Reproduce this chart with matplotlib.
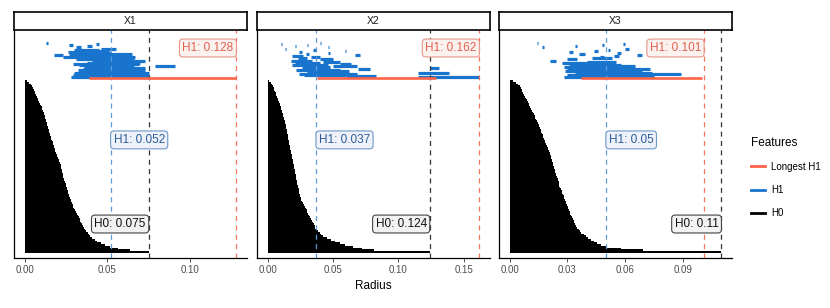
import numpy as np
import matplotlib.pyplot as plt
from matplotlib.lines import Line2D

plt.rcParams['font.family'] = ['Liberation Sans', 'DejaVu Sans']

panels = ['X1', 'X2', 'X3']

# H0 bars (birth = 0), death radius, longest first
h0_x1 = [0.075, 0.0637, 0.0564, 0.0517, 0.0485, 0.0461, 0.0440, 0.0424, 0.0410, 0.0396,
         0.0388, 0.0381, 0.0374, 0.0367, 0.0360, 0.0353, 0.0348, 0.0343, 0.0337, 0.0332,
         0.0327, 0.0321, 0.0316, 0.0311, 0.0306, 0.0300, 0.0295, 0.0290, 0.0285, 0.0281,
         0.0278, 0.0274, 0.0271, 0.0267, 0.0264, 0.0261, 0.0257, 0.0254, 0.0251, 0.0248,
         0.0245, 0.0241, 0.0238, 0.0235, 0.0232, 0.0230, 0.0227, 0.0224, 0.0222, 0.0219,
         0.0217, 0.0214, 0.0210, 0.0206, 0.0202, 0.0198, 0.0194, 0.0190, 0.0186, 0.0182,
         0.0179, 0.0176, 0.0172, 0.0169, 0.0165, 0.0162, 0.0159, 0.0155, 0.0152, 0.0149,
         0.0146, 0.0143, 0.0140, 0.0136, 0.0133, 0.0131, 0.0128, 0.0125, 0.0122, 0.0119,
         0.0116, 0.0112, 0.0107, 0.0103, 0.0099, 0.0095, 0.0090, 0.0084, 0.0079, 0.0074,
         0.0070, 0.0065, 0.0061, 0.0057, 0.0050, 0.0044, 0.0038, 0.0028, 0.0016, 0.0004]
h0_x2 = [0.124, 0.081, 0.072, 0.065, 0.0595, 0.0554, 0.0517, 0.0483, 0.0454, 0.0427,
         0.0412, 0.0399, 0.0385, 0.0372, 0.0366, 0.0359, 0.0352, 0.0345, 0.0338, 0.0331,
         0.0325, 0.0318, 0.0312, 0.0305, 0.0298, 0.0292, 0.0285, 0.0278, 0.0272, 0.0265,
         0.0258, 0.0255, 0.0251, 0.0248, 0.0244, 0.0241, 0.0238, 0.0234, 0.0231, 0.0228,
         0.0226, 0.0223, 0.0221, 0.0218, 0.0215, 0.0213, 0.0210, 0.0207, 0.0205, 0.0202,
         0.0199, 0.0196, 0.0194, 0.0191, 0.0188, 0.0186, 0.0183, 0.0180, 0.0177, 0.0175,
         0.0172, 0.0170, 0.0167, 0.0164, 0.0162, 0.0159, 0.0156, 0.0154, 0.0151, 0.0148,
         0.0145, 0.0143, 0.0140, 0.0137, 0.0135, 0.0132, 0.0129, 0.0125, 0.0121, 0.0117,
         0.0113, 0.0109, 0.0105, 0.0101, 0.0097, 0.0093, 0.0088, 0.0083, 0.0078, 0.0073,
         0.0068, 0.0063, 0.0058, 0.0052, 0.0046, 0.0039, 0.0032, 0.0024, 0.0012, 0.0003]
h0_x3 = [0.110, 0.0695, 0.0579, 0.0503, 0.0475, 0.0455, 0.0437, 0.0422, 0.0408, 0.0396,
         0.0384, 0.0372, 0.0365, 0.0358, 0.0352, 0.0345, 0.0341, 0.0336, 0.0332, 0.0327,
         0.0322, 0.0318, 0.0315, 0.0312, 0.0309, 0.0305, 0.0302, 0.0299, 0.0295, 0.0292,
         0.0288, 0.0284, 0.0281, 0.0277, 0.0273, 0.0270, 0.0266, 0.0262, 0.0259, 0.0256,
         0.0254, 0.0251, 0.0249, 0.0246, 0.0243, 0.0241, 0.0238, 0.0235, 0.0233, 0.0230,
         0.0227, 0.0225, 0.0222, 0.0219, 0.0216, 0.0214, 0.0211, 0.0208, 0.0204, 0.0201,
         0.0197, 0.0193, 0.0190, 0.0186, 0.0183, 0.0179, 0.0176, 0.0172, 0.0169, 0.0165,
         0.0162, 0.0158, 0.0155, 0.0152, 0.0148, 0.0143, 0.0139, 0.0134, 0.0130, 0.0125,
         0.0121, 0.0116, 0.0112, 0.0108, 0.0103, 0.0099, 0.0094, 0.0090, 0.0085, 0.0081,
         0.0076, 0.0071, 0.0067, 0.0062, 0.0058, 0.0052, 0.0043, 0.0034, 0.0020, 0.0004]

# H1 bars, first one is the longest H1
h1_birth_x1 = [0.039, 0.028, 0.031, 0.029, 0.034, 0.030, 0.037, 0.032, 0.035, 0.041,
               0.036, 0.079, 0.033, 0.029, 0.038, 0.045, 0.041, 0.031, 0.048, 0.023,
               0.030, 0.018, 0.027, 0.033, 0.026, 0.042, 0.030, 0.046, 0.031, 0.038,
               0.027, 0.043, 0.013]
h1_death_x1 = [0.128, 0.075, 0.075, 0.071, 0.074, 0.075, 0.069, 0.073, 0.072, 0.073,
               0.066, 0.091, 0.062, 0.069, 0.070, 0.067, 0.073, 0.058, 0.066, 0.067,
               0.055, 0.023, 0.065, 0.052, 0.049, 0.051, 0.045, 0.055, 0.034, 0.041,
               0.029, 0.045, 0.014]
h1_birth_x2 = [0.038, 0.115, 0.060, 0.028, 0.024, 0.115, 0.030, 0.022, 0.069, 0.124,
               0.026, 0.050, 0.019, 0.055, 0.021, 0.042, 0.018, 0.040, 0.023, 0.033,
               0.019, 0.067, 0.029, 0.046, 0.024, 0.059, 0.035, 0.013, 0.046, 0.021,
               0.030, 0.010, 0.040]
h1_death_x2 = [0.129, 0.162, 0.083, 0.060, 0.068, 0.139, 0.062, 0.055, 0.078, 0.131,
               0.048, 0.068, 0.046, 0.064, 0.040, 0.055, 0.034, 0.050, 0.030, 0.040,
               0.027, 0.071, 0.032, 0.048, 0.026, 0.060, 0.037, 0.014, 0.047, 0.022,
               0.031, 0.011, 0.041]
h1_birth_x3 = [0.037, 0.028, 0.031, 0.030, 0.036, 0.034, 0.029, 0.033, 0.061, 0.030,
               0.028, 0.036, 0.031, 0.033, 0.027, 0.040, 0.021, 0.030, 0.043, 0.047,
               0.054, 0.066, 0.036, 0.056, 0.031, 0.044, 0.051, 0.060, 0.017, 0.034,
               0.048, 0.059, 0.014]
h1_death_x3 = [0.100, 0.075, 0.073, 0.071, 0.089, 0.074, 0.066, 0.069, 0.073, 0.056,
               0.062, 0.065, 0.058, 0.052, 0.041, 0.055, 0.024, 0.035, 0.053, 0.049,
               0.057, 0.069, 0.039, 0.058, 0.033, 0.046, 0.052, 0.062, 0.018, 0.035,
               0.049, 0.060, 0.015]

h0_all = [h0_x1, h0_x2, h0_x3]
h1_births = [h1_birth_x1, h1_birth_x2, h1_birth_x3]
h1_deaths = [h1_death_x1, h1_death_x2, h1_death_x3]

# reference lines
h0_line = [0.075, 0.124, 0.110]
h1_line = [0.052, 0.037, 0.050]
h1_max_line = [0.128, 0.162, 0.101]
h0_text = ['H0: 0.075', 'H0: 0.124', 'H0: 0.11']
h1_text = ['H1: 0.052', 'H1: 0.037', 'H1: 0.05']
h1_max_text = ['H1: 0.128', 'H1: 0.162', 'H1: 0.101']

x_ticks = [[0.0, 0.05, 0.10], [0.0, 0.05, 0.10, 0.15], [0.0, 0.03, 0.06, 0.09]]
x_ticklabels = [['0.00', '0.05', '0.10'], ['0.00', '0.05', '0.10', '0.15'],
                ['0.00', '0.03', '0.06', '0.09']]

col_long = '#FF6347'
col_h1 = '#1874CD'
col_h0 = 'black'

W, H = 830, 308
fig = plt.figure(figsize=(W / 100, H / 100), dpi=100)

lefts = [14, 257, 499]
pw = 233
top_px, bot_px = 30, 258

for i in range(3):
    ax = fig.add_axes([lefts[i] / W, 1 - bot_px / H, pw / W, (bot_px - top_px) / H])
    h0 = h0_all[i]
    n0 = len(h0)
    ax.barh(np.arange(n0), h0, height=1.0, left=0, color=col_h0,
            linewidth=0, antialiased=False)

    # H1 bars stacked above the H0 block
    n1 = len(h1_births[i])
    ys = n0 - 0.2 + np.linspace(0, 0.2 * n0, n1)
    ax.hlines(ys[1:], h1_births[i][1:], h1_deaths[i][1:], color=col_h1, lw=2.3)
    ax.hlines(ys[0], h1_births[i][0], h1_deaths[i][0], color=col_long, lw=1.9, zorder=3)

    ax.axvline(h1_line[i], color='#5B9BD9', lw=0.9, ls=(0, (4, 3.5)))
    ax.axvline(h0_line[i], color='#333333', lw=0.9, ls=(0, (4, 3.5)))
    ax.axvline(h1_max_line[i], color='#F7745E', lw=0.9, ls=(0, (4, 3.5)))

    pad = 2.1
    ax.annotate(h1_max_text[i], xy=(h1_max_line[i], 0.921), xycoords=('data', 'axes fraction'),
                xytext=(-pad, 0), textcoords='offset points', ha='right', va='center',
                fontsize=8.5, color='#E0604F',
                bbox=dict(boxstyle='round,pad=0.25,rounding_size=0.3', fc='#FBF1EF', ec='#E8958A', lw=0.8))
    ax.annotate(h1_text[i], xy=(h1_line[i], 0.518), xycoords=('data', 'axes fraction'),
                xytext=(pad, 0), textcoords='offset points', ha='left', va='center',
                fontsize=8.5, color='#2B5C9B',
                bbox=dict(boxstyle='round,pad=0.25,rounding_size=0.3', fc='#EEF2F8', ec='#6E98CB', lw=0.8))
    ax.annotate(h0_text[i], xy=(h0_line[i], 0.149), xycoords=('data', 'axes fraction'),
                xytext=(-pad, 0), textcoords='offset points', ha='right', va='center',
                fontsize=8.5, color='#111111',
                bbox=dict(boxstyle='round,pad=0.25,rounding_size=0.3', fc='#F2F2F2', ec='#444444', lw=0.8))

    xmax = max(h0_line[i], h1_max_line[i])
    ax.set_xlim(-0.05 * xmax, 1.05 * xmax)
    ax.set_ylim(-0.034 * n0, 1.273 * n0)
    ax.set_xticks(x_ticks[i])
    ax.set_xticklabels(x_ticklabels[i])
    ax.set_yticks([])
    ax.tick_params(axis='x', labelsize=7, labelcolor='#4D4D4D', color='#333333',
                   length=3, width=0.6, pad=2)
    for s in ['top', 'right']:
        ax.spines[s].set_visible(False)
    for s in ['left', 'bottom']:
        ax.spines[s].set_linewidth(0.9)
        ax.spines[s].set_color('black')

    # facet strip
    sax = fig.add_axes([lefts[i] / W, 1 - top_px / H, pw / W, 18 / H])
    sax.set_xticks([])
    sax.set_yticks([])
    for s in sax.spines.values():
        s.set_linewidth(1.2)
        s.set_color('black')
    sax.text(0.5, 0.5, panels[i], ha='center', va='center', fontsize=7.5, color='#1A1A1A')

fig.text(373 / W, 1 - 286 / H, 'Radius', ha='center', va='center', fontsize=8.5)

handles = [Line2D([], [], color=col_long, lw=2),
           Line2D([], [], color=col_h1, lw=2),
           Line2D([], [], color=col_h0, lw=2)]
fig.legend(handles, ['Longest H1', 'H1', 'H0'], title='Features', loc='upper left',
           bbox_to_anchor=(742 / W, 1 - 128 / H), frameon=False, fontsize=7,
           title_fontsize=8.5, handlelength=1.5, labelspacing=1.35, alignment='left',
           handletextpad=0.6)

plt.savefig('out.png', dpi=100)
